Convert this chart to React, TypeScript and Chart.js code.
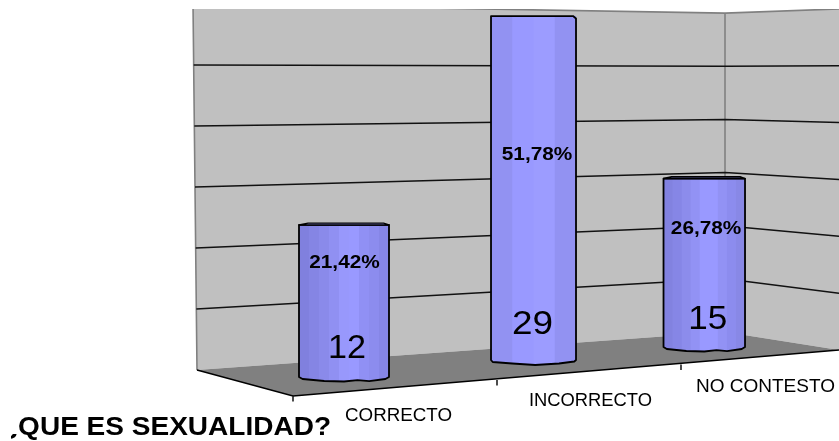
import React, { useEffect, useRef } from "react";
import { Chart, registerables, CategoryScale } from "chart.js";

// ---- data ----
const categories = ["CORRECTO", "INCORRECTO", "NO CONTESTO"];
const counts = [12, 29, 15];
const percentLabels = ["21,42%", "51,78%", "26,78%"];
const gridValues = [0, 5, 10, 15, 20, 25, 30];
const chartTitle = "¿QUE ES SEXUALIDAD?";

// ---- projection of the 3D picture ----
const W = 839;
const H = 441;
const barBaselines = [377, 360, 347];
const barUnitPx = [12.67, 11.86, 11.23];
const barWidths = [90, 85, 81.5];
const xProjection = { a: 344, b: 218.8, c: 0.0549 };
const wallEdges = {
  left: { id: "wallLeft", x0: 197, x30: 193, base: 370, unit: 12.2 },
  corner: { id: "wallCorner", x0: 725, x30: 725, base: 332, unit: 10.63 },
  right: { id: "wallRight", x0: 839, x30: 839, base: 350, unit: 11.37 },
};
const stripes = [
  ["#8080de", "#8585e4", "#8a8aea", "#9090f2", "#9898fc", "#9999ff", "#9090f4", "#8c8cee", "#8686e6"],
  ["#9292f2", "#9999ff", "#9c9cff", "#9292f2"],
  ["#8282e0", "#8686e6", "#8c8cec", "#9292f4", "#9999ff", "#9999ff", "#9292f4", "#8c8cee", "#8888e6"],
];
const countText = [
  { dx: 3, y: 348.5, w: 38 },
  { dx: -1, y: 324.5, w: 41 },
  { dx: 3.5, y: 319.5, w: 39 },
];
const percentText = [
  { dx: 0.5, y: 262.5 },
  { dx: 3.5, y: 155 },
  { dx: 1.8, y: 229 },
];
const categoryText = [
  { x: 398.5, y: 416, w: 107 },
  { x: 590.5, y: 401, w: 123 },
  { x: 765.5, y: 387, w: 139 },
];
const floorTicks = [
  { x: 293, y: 396 },
  { x: 497, y: 380 },
  { x: 681, y: 364.5 },
];

class SkewedCategoryScale extends CategoryScale {
  static id = "skewedCategory";
  static defaults = CategoryScale.defaults;
  getPixelForValue(value: any) {
    const i = typeof value === "number" ? value : (this as any).parse(value);
    if (i === null) return NaN;
    const { a, b, c } = xProjection;
    return (a + b * i) / (1 + c * i);
  }
}

Chart.register(...registerables, SkewedCategoryScale as any);

function axisFor(base: number, unit: number) {
  const min = -(H - base) / unit;
  return { type: "linear", axis: "y", position: "left", display: false, min, max: min + H / unit };
}

function fitText(ctx: any, text: string, cx: number, cy: number, font: string, width: number, color = "#000") {
  ctx.save();
  ctx.font = font;
  ctx.fillStyle = color;
  ctx.textAlign = "center";
  ctx.textBaseline = "middle";
  const sx = width / ctx.measureText(text).width;
  ctx.translate(cx, cy);
  ctx.scale(sx, 1);
  ctx.fillText(text, 0, 0);
  ctx.restore();
}

const wallsPlugin = {
  id: "walls",
  beforeDatasetsDraw(chart: any) {
    const { ctx, scales } = chart;
    const px = (e: any, v: number) => scales[e.id].getPixelForValue(v);
    const xAt = (e: any, v: number) => e.x0 + ((e.x30 - e.x0) * v) / 30;
    const { left, corner, right } = wallEdges;
    ctx.save();
    ctx.beginPath();
    ctx.rect(0, 9, W, H);
    ctx.clip();
    // walls
    ctx.fillStyle = "#c0c0c0";
    ctx.beginPath();
    ctx.moveTo(xAt(left, 30), px(left, 30));
    ctx.lineTo(corner.x30, px(corner, 30));
    ctx.lineTo(right.x30, px(right, 30));
    ctx.lineTo(right.x0, px(right, 0));
    ctx.lineTo(corner.x0, px(corner, 0));
    ctx.lineTo(left.x0, px(left, 0));
    ctx.closePath();
    ctx.fill();
    // floor
    ctx.fillStyle = "#808080";
    ctx.beginPath();
    ctx.moveTo(left.x0, px(left, 0));
    ctx.lineTo(corner.x0, px(corner, 0));
    ctx.lineTo(right.x0, px(right, 0));
    ctx.lineTo(floorTicks[0].x, floorTicks[0].y);
    ctx.closePath();
    ctx.fill();
    // wall frame
    ctx.strokeStyle = "#808080";
    ctx.lineWidth = 1.6;
    ctx.beginPath();
    ctx.moveTo(xAt(left, 0), px(left, 0));
    ctx.lineTo(xAt(left, 30), px(left, 30));
    ctx.moveTo(xAt(left, 30), px(left, 30));
    ctx.lineTo(corner.x30, px(corner, 30));
    ctx.lineTo(right.x30, px(right, 30));
    ctx.moveTo(corner.x30, px(corner, 30));
    ctx.lineTo(corner.x0, px(corner, 0));
    ctx.stroke();
    // gridlines
    ctx.strokeStyle = "#111";
    ctx.lineWidth = 1.5;
    gridValues
      .filter((v) => v > 0 && v < 30)
      .forEach((v) => {
        ctx.beginPath();
        ctx.moveTo(xAt(left, v), px(left, v));
        ctx.lineTo(corner.x0, px(corner, v));
        ctx.lineTo(right.x0, px(right, v));
        ctx.stroke();
      });
    // floor front edges and ticks
    ctx.strokeStyle = "#000";
    ctx.lineWidth = 1.4;
    ctx.beginPath();
    ctx.moveTo(left.x0, px(left, 0));
    ctx.lineTo(floorTicks[0].x, floorTicks[0].y);
    ctx.lineTo(right.x0, px(right, 0));
    floorTicks.forEach((t) => {
      ctx.moveTo(t.x, t.y);
      ctx.lineTo(t.x, t.y + 5.5);
    });
    ctx.stroke();
    ctx.restore();
  },
};

const cylinderPlugin = {
  id: "cylinders",
  afterDatasetsDraw(chart: any) {
    const { ctx } = chart;
    counts.forEach((_, i) => {
      const bar = chart.getDatasetMeta(i).data[i];
      const { x, y, base, width } = bar.getProps(["x", "y", "base", "width"], true);
      const l = x - width / 2;
      const r = x + width / 2;
      const scallop = i === 1
        ? [[0.02, 2], [0.25, 3.5], [0.52, 5], [0.8, 3.5], [0.98, 1.5]]
        : [[0.04, 2], [0.28, 4], [0.5, 4.5], [0.65, 3.2], [0.78, 4.2], [0.96, 2]];
      const outline = () => {
        ctx.beginPath();
        ctx.moveTo(l, y);
        ctx.lineTo(i === 1 ? r - 3 : r, y);
        ctx.lineTo(r, i === 1 ? y + 2.5 : y);
        ctx.lineTo(r, base);
        [...scallop].reverse().forEach(([f, d]) => ctx.lineTo(l + f * width, base + d));
        ctx.lineTo(l, base);
        ctx.closePath();
      };
      // erase the plain bar so that the chamfered corner shows the wall again
      ctx.save();
      outline();
      ctx.save();
      ctx.clip();
      const cols = stripes[i];
      cols.forEach((c, k) => {
        ctx.fillStyle = c;
        ctx.fillRect(l + (k * width) / cols.length, y - 1, width / cols.length + 0.6, base - y + 8);
      });
      ctx.restore();
      ctx.strokeStyle = "#000";
      ctx.lineWidth = 1.8;
      ctx.lineJoin = "round";
      outline();
      ctx.stroke();
      // octagonal lid
      if (i !== 1) {
        ctx.fillStyle = "#8c8cec";
        ctx.beginPath();
        ctx.moveTo(l, y);
        ctx.lineTo(l + width * 0.1, y - 1.8);
        ctx.lineTo(r - width * 0.06, y - 1.8);
        ctx.lineTo(r, y);
        ctx.closePath();
        ctx.fill();
        ctx.lineWidth = 1.4;
        ctx.stroke();
      }
      ctx.restore();

      fitText(ctx, String(counts[i]), x + countText[i].dx, countText[i].y, "33px 'Liberation Sans'", countText[i].w);
      fitText(ctx, percentLabels[i], x + percentText[i].dx, percentText[i].y, "bold 18.5px 'Liberation Sans'", 70.5);
    });
    categories.forEach((c, i) => {
      fitText(ctx, c, categoryText[i].x, categoryText[i].y, "17.5px 'Liberation Sans'", categoryText[i].w);
    });
    // The opening mark is cut away in the original, leaving only its lower hook.
    ctx.save();
    ctx.beginPath();
    ctx.rect(18, 400, W, 41);
    ctx.rect(11, 434, 7, 7);
    ctx.clip();
    fitText(ctx, chartTitle, 166, 428, "bold 26px 'Liberation Sans'", 330);
    ctx.restore();
  },
};

export default function App() {
  const ref = useRef<HTMLCanvasElement | null>(null);
  useEffect(() => {
    const yAxes: any = {};
    counts.forEach((_, i) => {
      yAxes[`y${i}`] = axisFor(barBaselines[i], barUnitPx[i]);
    });
    Object.values(wallEdges).forEach((e) => {
      yAxes[e.id] = axisFor(e.base, e.unit);
    });
    const chart = new Chart(ref.current as any, {
      type: "bar",
      data: {
        labels: categories,
        datasets: counts.map((v, i) => ({
          label: categories[i],
          data: categories.map((_, j) => (j === i ? v : null)),
          yAxisID: `y${i}`,
          maxBarThickness: barWidths[i],
          backgroundColor: "#9999ff",
          grouped: false,
        })),
      } as any,
      options: {
        responsive: false,
        animation: false,
        layout: { padding: 0 },
        plugins: { legend: { display: false }, title: { display: false }, tooltip: { enabled: false } },
        scales: { x: { type: "skewedCategory", axis: "x", position: "bottom", display: false }, ...yAxes },
      } as any,
      plugins: [wallsPlugin, cylinderPlugin],
    });
    return () => chart.destroy();
  }, []);
  return (
    <div style={{ position: "absolute", left: 0, top: 0, width: W, height: H, background: "#fff" }}>
      <canvas ref={ref} width={W} height={H} style={{ display: "block" }} />
    </div>
  );
}
